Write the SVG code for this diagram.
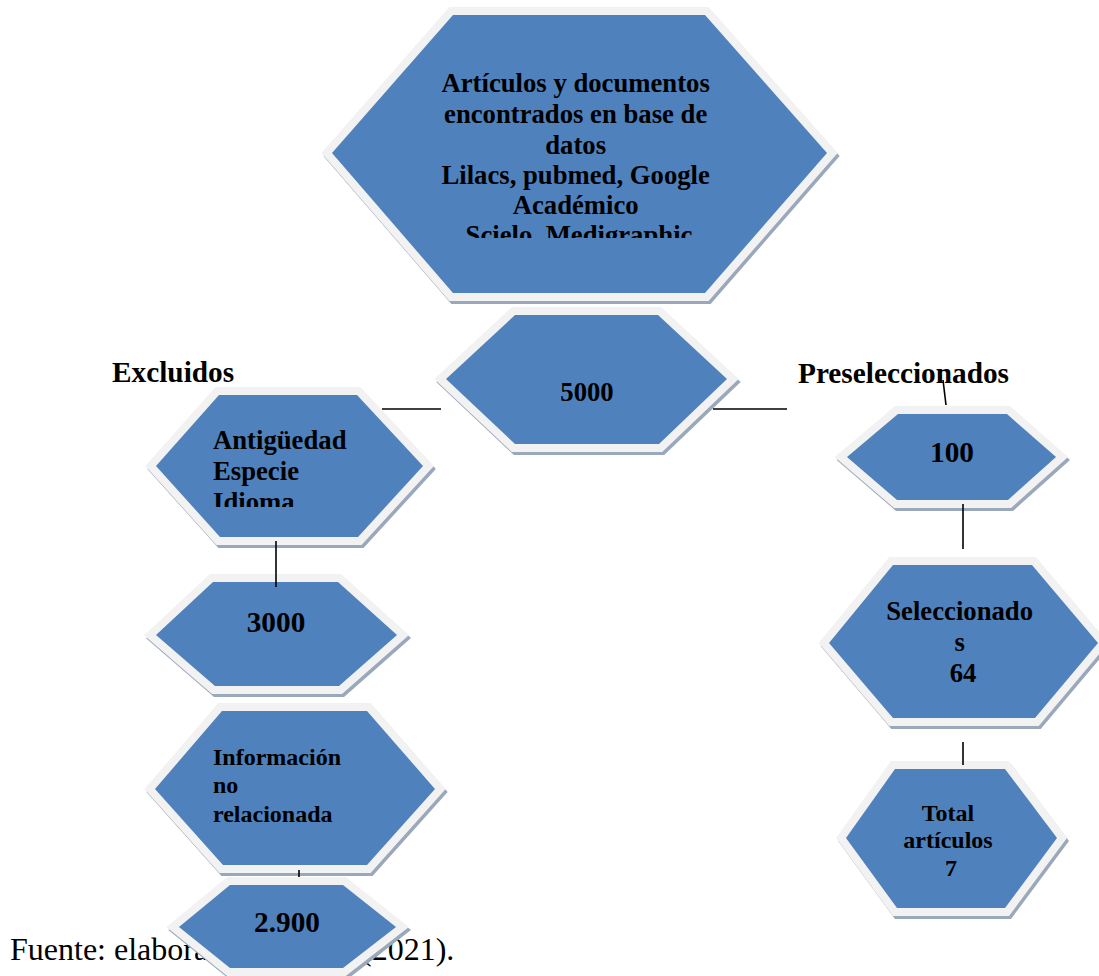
<svg xmlns="http://www.w3.org/2000/svg" width="1099" height="976" viewBox="0 0 1099 976">
<defs>
<style>
.sh{fill:#9aa8bc;stroke:#9aa8bc;stroke-width:16;stroke-linejoin:miter}
.bd{fill:#f2f2f2;stroke:#f2f2f2;stroke-width:16;stroke-linejoin:miter}
.fl{fill:#4f81bd}
.t{font-family:"Liberation Serif","Times New Roman",serif;font-weight:bold;fill:#000}
.c{text-anchor:middle}
.ln{stroke:#000;stroke-width:1.6;fill:none}
</style>
<clipPath id="clipTop"><rect x="330" y="20" width="500" height="218"/></clipPath>
<clipPath id="clipAnt"><rect x="150" y="400" width="280" height="107"/></clipPath>
</defs>
<rect width="1099" height="976" fill="#fff"/>

<text x="10" y="960" font-family="'Liberation Serif','Times New Roman',serif" font-size="32" fill="#000">Fuente: elaboración propia (2021).</text>

<text class="t" x="112" y="382" font-size="29.3">Excluidos</text>
<text class="t" x="798" y="383" font-size="29.3">Preseleccionados</text>

<g id="node-top">
<polygon class="sh" transform="translate(2,3)" points="453,15 705,15 827,153 705,293 453,293 332,153"/>
<polygon class="bd" points="453,15 705,15 827,153 705,293 453,293 332,153"/>
<polygon class="fl" points="453,15 705,15 827,153 705,293 453,293 332,153"/>
<text class="t c" font-size="26.7" clip-path="url(#clipTop)">
<tspan x="579" y="92">Artículos y documentos</tspan>
<tspan x="579" y="123">encontrados en base de</tspan>
<tspan x="579" y="154">datos</tspan>
<tspan x="579" y="184">Lilacs, pubmed, Google</tspan>
<tspan x="579" y="214">Académico</tspan>
<tspan x="579" y="244">Scielo, Medigraphic</tspan>
</text>
</g>

<g id="node-5000">
<polygon class="sh" transform="translate(2,3)" points="515,315 658,315 727,379 659,444 515,444 446,379"/>
<polygon class="bd" points="515,315 658,315 727,379 659,444 515,444 446,379"/>
<polygon class="fl" points="515,315 658,315 727,379 659,444 515,444 446,379"/>
<text class="t c" x="587" y="401" font-size="26.7">5000</text>
</g>

<g id="node-antiguedad">
<polygon class="sh" transform="translate(2,3)" points="219,395 357,395 423,466 358,537 220,537 156,466"/>
<polygon class="bd" points="219,395 357,395 423,466 358,537 220,537 156,466"/>
<polygon class="fl" points="219,395 357,395 423,466 358,537 220,537 156,466"/>
<text class="t" font-size="26.7" clip-path="url(#clipAnt)">
<tspan x="213" y="449">Antigüedad</tspan>
<tspan x="213" y="480">Especie</tspan>
<tspan x="213" y="511">Idioma</tspan>
</text>
</g>

<g id="node-3000">
<polygon class="sh" transform="translate(2,3)" points="213,582 338,582 397,635 339,686 215,686 156,635"/>
<polygon class="bd" points="213,582 338,582 397,635 339,686 215,686 156,635"/>
<polygon class="fl" points="213,582 338,582 397,635 339,686 215,686 156,635"/>
<text class="t c" x="276" y="632" font-size="29.3">3000</text>
</g>

<g id="node-informacion">
<polygon class="sh" transform="translate(2,3)" points="222,711 367,711 435,789 367,865 223,865 155,789"/>
<polygon class="bd" points="222,711 367,711 435,789 367,865 223,865 155,789"/>
<polygon class="fl" points="222,711 367,711 435,789 367,865 223,865 155,789"/>
<text class="t" font-size="24">
<tspan x="213" y="765">Información</tspan>
<tspan x="213" y="793">no</tspan>
<tspan x="213" y="822">relacionada</tspan>
</text>
</g>

<g id="node-2900">
<polygon class="sh" transform="translate(2,3)" points="230,885 343,885 396,927 343,968 230,968 179,927"/>
<polygon class="bd" points="230,885 343,885 396,927 343,968 230,968 179,927"/>
<polygon class="fl" points="230,885 343,885 396,927 343,968 230,968 179,927"/>
<text class="t c" x="287" y="932" font-size="29.3">2.900</text>
</g>

<g id="node-100">
<polygon class="sh" transform="translate(2,3)" points="898,414 1007,414 1056,457 1008,500 897,500 847,457"/>
<polygon class="bd" points="898,414 1007,414 1056,457 1008,500 897,500 847,457"/>
<polygon class="fl" points="898,414 1007,414 1056,457 1008,500 897,500 847,457"/>
<text class="t c" x="952" y="462" font-size="29.3">100</text>
</g>

<g id="node-seleccionados">
<polygon class="sh" transform="translate(2,3)" points="893,565 1032,565 1098,643 1035,718 893,718 829,643"/>
<polygon class="bd" points="893,565 1032,565 1098,643 1035,718 893,718 829,643"/>
<polygon class="fl" points="893,565 1032,565 1098,643 1035,718 893,718 829,643"/>
<text class="t c" font-size="26.7">
<tspan x="963" y="620">Seleccionado</tspan>
<tspan x="963" y="651">s</tspan>
<tspan x="963" y="682">64</tspan>
</text>
</g>

<g id="node-total">
<polygon class="sh" transform="translate(2,3)" points="895,769 1005,769 1057,838 1005,908 897,908 846,838"/>
<polygon class="bd" points="895,769 1005,769 1057,838 1005,908 897,908 846,838"/>
<polygon class="fl" points="895,769 1005,769 1057,838 1005,908 897,908 846,838"/>
<text class="t c" font-size="24">
<tspan x="951" y="821">Total</tspan>
<tspan x="951" y="848">artículos</tspan>
<tspan x="951" y="876">7</tspan>
</text>
</g>

<g id="connectors">
<line class="ln" x1="382" y1="409" x2="441" y2="409"/>
<line class="ln" x1="713" y1="409" x2="787" y2="409"/>
<line class="ln" x1="943" y1="380" x2="946" y2="405"/>
<line class="ln" x1="276" y1="541" x2="276" y2="587"/>
<line class="ln" x1="299" y1="870" x2="299" y2="877"/>
<line class="ln" x1="963" y1="504" x2="963" y2="549"/>
<line class="ln" x1="963" y1="742" x2="963" y2="765"/>
</g>
</svg>
